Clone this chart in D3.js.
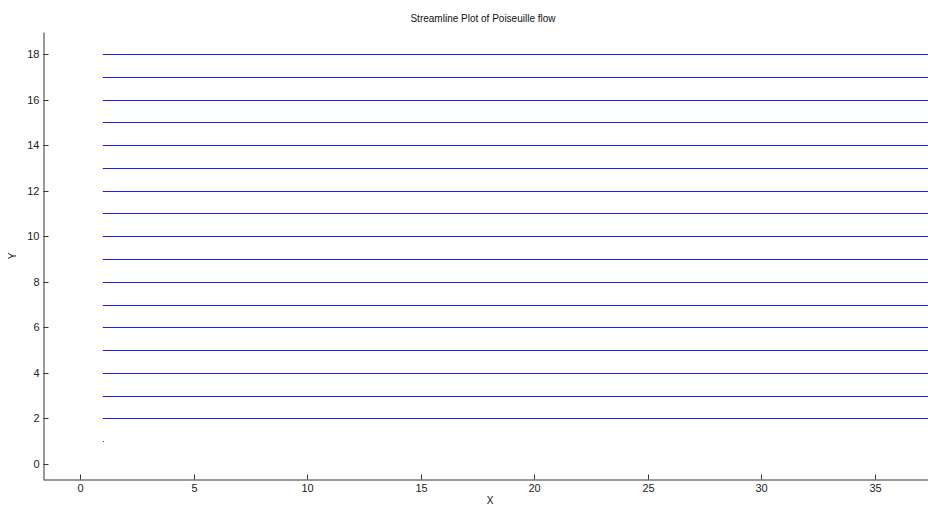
<!DOCTYPE html>
<html><head><meta charset="utf-8">
<script src="https://cdn.jsdelivr.net/npm/d3@7"></script>
<style>body{margin:0;background:#fff}svg{display:block}text{font-family:"Liberation Sans",Arial,sans-serif}</style>
</head><body><svg id="c" width="928" height="506"></svg>
<script>
const title = "Streamline Plot of Poiseuille flow";
const xLabel = "X", yLabel = "Y";
const streamY = [2,3,4,5,6,7,8,9,10,11,12,13,14,15,16,17,18];
const streamXStart = 1, streamXEnd = 40;
const pointX = [1], pointY = [1];
const xTicks = [0,5,10,15,20,25,30,35];
const yTicks = [0,2,4,6,8,10,12,14,16,18];
const xDomain = [-1.63, 37.33], yDomain = [-0.66, 18.97];

const W = 928, H = 506;
const m = {left:43, right:0, top:32, bottom:27};
const svg = d3.select("#c");
const x = d3.scaleLinear().domain(xDomain).range([m.left, W - m.right]);
const y = d3.scaleLinear().domain(yDomain).range([H - m.bottom, m.top]);

svg.append("clipPath").attr("id","clip").append("rect")
  .attr("x", m.left).attr("y", m.top).attr("width", W - m.left - m.right).attr("height", H - m.bottom - m.top);

const g = svg.append("g").attr("clip-path","url(#clip)");
g.selectAll("line.s").data(streamY).join("line").attr("class","s")
  .attr("x1", x(streamXStart)).attr("x2", x(streamXEnd))
  .attr("y1", d => Math.round(y(d)) + 0.5).attr("y2", d => Math.round(y(d)) + 0.5)
  .attr("stroke", "#2020f0").attr("stroke-width", 1);
g.selectAll("rect.p").data(pointX).join("rect").attr("class","p")
  .attr("x", (d) => Math.round(x(d))).attr("y", (d,i) => Math.round(y(pointY[i])))
  .attr("width",1).attr("height",1).attr("fill","#4040c0");

const axColor = "#333";
const xa = svg.append("g").attr("transform", `translate(0,${Math.round(y(yDomain[0])) + 0.5})`)
  .call(d3.axisBottom(x).tickValues(xTicks).tickSizeInner(-5).tickSizeOuter(0).tickPadding(5));
const ya = svg.append("g").attr("transform", `translate(${Math.round(x(xDomain[0])) + 0.5},0)`)
  .call(d3.axisLeft(y).tickValues(yTicks).tickSizeInner(-5).tickSizeOuter(0).tickPadding(4));
[xa, ya].forEach(a => {
  a.select(".domain").attr("stroke", axColor);
  a.selectAll(".tick line").attr("stroke", axColor);
  a.selectAll(".tick text").attr("fill","#222").style("font-size","11px").style("font-family",'"Liberation Sans",Arial,sans-serif');
});
xa.selectAll(".tick").attr("transform", d => `translate(${Math.round(x(d)) + 0.5},0)`);
ya.selectAll(".tick").attr("transform", d => `translate(0,${Math.round(y(d)) + 0.5})`);

svg.append("text").attr("x", 483).attr("y", 22).attr("text-anchor","middle")
  .style("font-size","10px").attr("fill","#111").text(title);
svg.append("text").attr("x", 490).attr("y", 504).attr("text-anchor","middle")
  .style("font-size","10px").attr("fill","#111").text(xLabel);
svg.append("text").attr("transform", `translate(16,256) rotate(-90)`).attr("text-anchor","middle")
  .style("font-size","10px").attr("fill","#111").text(yLabel);
</script></body></html>
